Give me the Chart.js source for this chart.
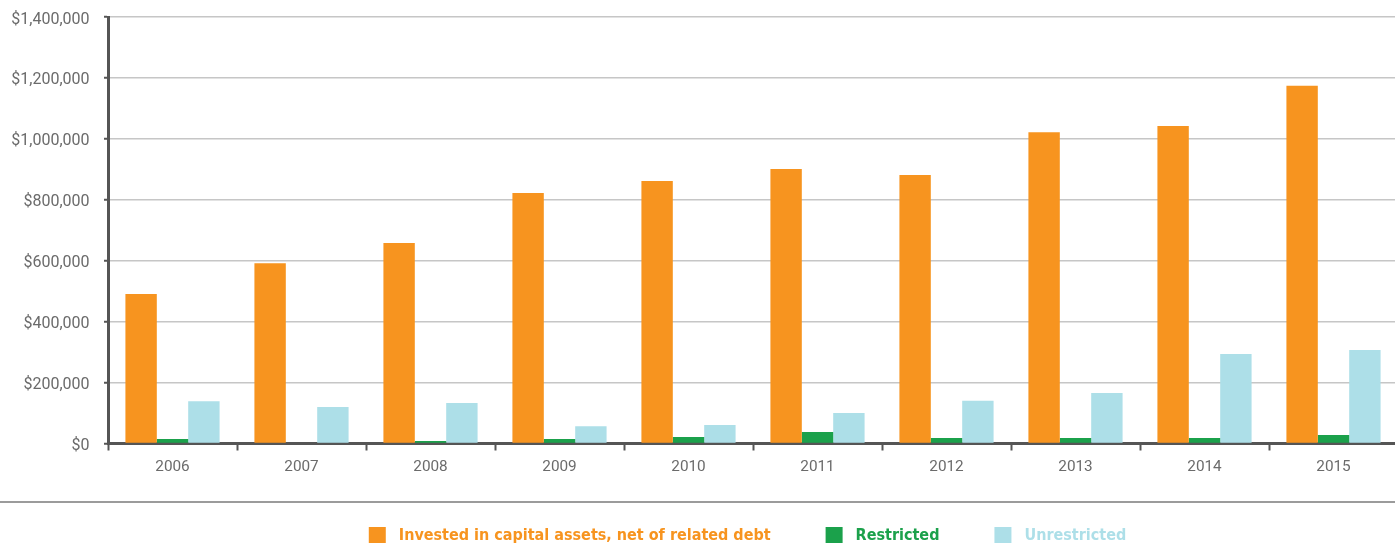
<!DOCTYPE html>
<html>
<head>
<meta charset="utf-8">
<script src="https://cdn.jsdelivr.net/npm/chart.js@4/dist/chart.umd.min.js"></script>
<style>
  html, body { margin: 0; padding: 0; background: #fff; overflow: hidden; }
  canvas { display: block; }
</style>
</head>
<body>
<canvas id="netChart" width="1398" height="543"></canvas>
<script>
const years = ["2006", "2007", "2008", "2009", "2010", "2011", "2012", "2013", "2014", "2015"];
const investedValues = [491000, 592000, 658000, 822000, 862000, 901000, 881000, 1022000, 1042000, 1174000];
const restrictedValues = [15000, 0, 8000, 15000, 21000, 38000, 18000, 18000, 18000, 28000];
const unrestrictedValues = [139000, 120000, 133000, 57000, 61000, 100000, 140000, 166000, 294000, 307000];
const seriesLabels = ["Invested in capital assets, net of related debt", "Restricted", "Unrestricted"];
const seriesColors = ["#f7941f", "#1ba14b", "#addfe8"];

const tickColor = "#6b6b6b";
const axisColor = "#555555";

// grey rule between the axis labels and the legend, and a small nudge of the legend row
const separatorLine = {
  id: "separatorLine",
  afterLayout(chart) {
    chart.legend.left -= 5.5;
    chart.legend.right -= 5.5;
  },
  beforeDraw(chart) {
    const { ctx, width } = chart;
    ctx.save();
    ctx.fillStyle = "#9b9b9b";
    ctx.fillRect(0, 501, width, 2);
    ctx.restore();
  },
};

const ctx = document.getElementById("netChart").getContext("2d");
new Chart(ctx, {
  type: "bar",
  data: {
    labels: years,
    datasets: [investedValues, restrictedValues, unrestrictedValues].map((values, i) => ({
      label: seriesLabels[i],
      data: values,
      backgroundColor: seriesColors[i],
      borderWidth: 0,
      categoryPercentage: 0.73,
      barPercentage: 1,
    })),
  },
  options: {
    responsive: false,
    animation: false,
    layout: { padding: { top: 17, left: 0, right: 0, bottom: 0 } },
    plugins: {
      tooltip: { enabled: false },
      legend: {
        position: "bottom",
        fullSize: false,
        maxHeight: 71,
        labels: {
          boxWidth: 17,
          boxHeight: 17,
          padding: 55,
          font: { family: "'DejaVu Sans Condensed', sans-serif", size: 16, weight: "bold" },
          generateLabels(chart) {
            return Chart.defaults.plugins.legend.labels.generateLabels(chart).map((item) => {
              item.text = " " + item.text;
              item.fontColor = item.fillStyle;
              item.lineWidth = 0;
              return item;
            });
          },
        },
      },
    },
    scales: {
      x: {
        afterFit(scale) {
          scale.height = 28.5;
          scale.paddingLeft = 0;
          scale.paddingRight = 0;
        },
        grid: {
          drawOnChartArea: false,
          drawTicks: true,
          tickLength: 7,
          tickColor: axisColor,
          tickWidth: 2,
        },
        border: { color: axisColor, width: 3 },
        ticks: { font: { family: "Roboto", size: 15.3 }, color: tickColor, padding: 7 },
      },
      y: {
        min: 0,
        max: 1400000,
        afterFit(scale) {
          scale.width = 108;
          scale.paddingTop = 0;
          scale.paddingBottom = 0;
        },
        grid: {
          color: "#c6c6c6",
          lineWidth: 1.5,
          tickLength: 4,
          tickColor: axisColor,
          tickWidth: 2,
        },
        border: { color: axisColor, width: 3 },
        ticks: {
          stepSize: 200000,
          font: { family: "Roboto", size: 16 },
          color: tickColor,
          padding: 14.5,
          labelOffset: 2.5,
          callback: (v) => "$" + v.toLocaleString("en-US"),
        },
      },
    },
  },
  plugins: [separatorLine],
});
</script>
</body>
</html>
